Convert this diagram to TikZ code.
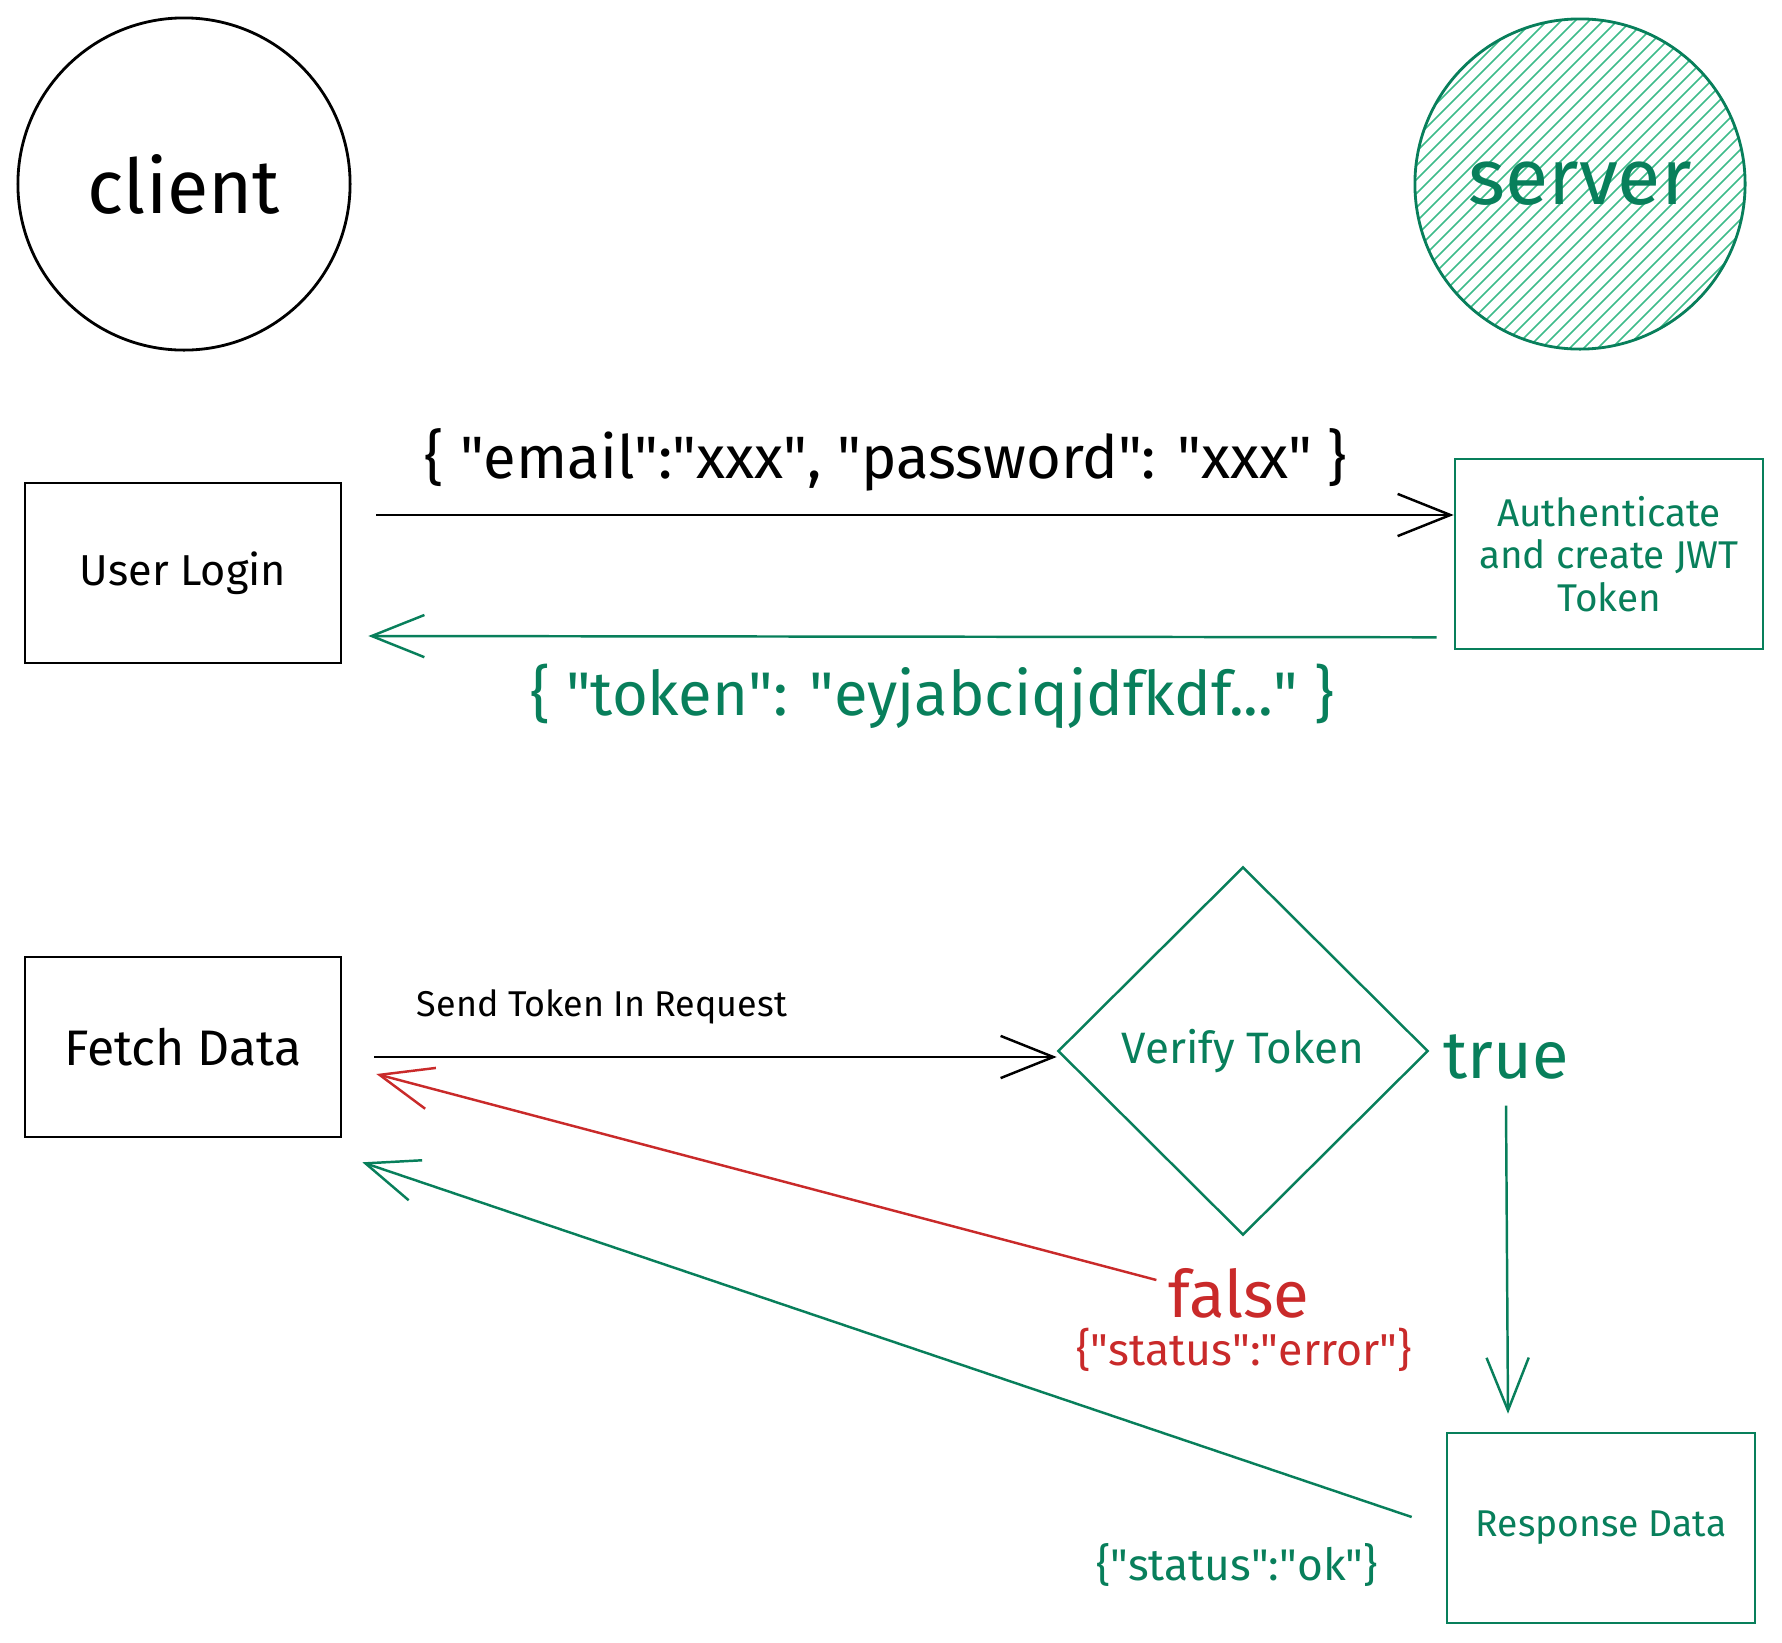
\documentclass[tikz,border=0pt]{standalone}
\usepackage{fontspec}
\setmainfont{Fira Sans}
\usepackage{xcolor}
\usetikzlibrary{positioning, arrows.meta, shapes.geometric, calc}
\definecolor{srvgreen}{HTML}{087F5B}
\definecolor{hatchgreen}{HTML}{3DBB8A}
\definecolor{errred}{HTML}{C92A2A}
\newcommand{\q}{\textquotedbl}

\begin{document}
\begin{tikzpicture}[x=0.01cm, y=-0.01cm,
    box/.style={rectangle, draw, line width=0.7pt, minimum width=3.16cm, minimum height=1.8cm},
    srvbox/.style={box, draw=srvgreen, text=srvgreen, minimum width=3.08cm, minimum height=1.9cm},
    flow/.style={-{Straight Barb[length=15pt,width=12pt]}, line width=0.7pt},
    lbl/.style={inner sep=1pt}]
    \useasboundingbox (0,0) rectangle (1782,1642);

    % actors
    \begin{scope}
        \clip (1580,184) circle (165);
        \foreach \k in {-119,-112,...,119} {
            \draw[hatchgreen, line width=0.45pt] (1580+\k-200, 184+\k+200) -- (1580+\k+200, 184+\k-200);
        }
    \end{scope}
    \node[circle, draw, line width=0.8pt, minimum size=3.32cm, font=\fontsize{21.5}{26}\selectfont] (client) at (184,184) {client};
    \node[circle, draw=srvgreen, line width=0.8pt, minimum size=3.3cm, text=srvgreen, font=\fontsize{22.5}{26}\selectfont] (server) at (1580,184) {server};

    % login
    \node[box, font=\fontsize{12.3}{14}\selectfont] (login) at (183,573) {User Login};
    \node[srvbox, align=center, font=\fontsize{11}{12}\selectfont] (auth) at (1609,554) {Authenticate\\and create JWT\\Token};
    \draw[flow] ([shift={(34,-58)}]login.east) -- ([shift={(0,-39)}]auth.west);
    \draw[flow, srvgreen] ([shift={(-17,-13)}]auth.south west) -- ([shift={(26,63)}]login.east);
    \node[lbl, font=\fontsize{17}{20}\selectfont] (creds) at (886,460) {\{ \q email\q:\q xxx\q, \q password\q: \q xxx\q\ \}};
    \node[lbl, text=srvgreen, font=\fontsize{17.5}{20}\selectfont] (tokenlbl) at (932,696) {\{ \q token\q: \q eyjabciqjdfkdf...\q\ \}};

    % fetch
    \node[box, font=\fontsize{14.2}{16}\selectfont] (fetch) at (183,1047) {Fetch Data};
    \node[diamond, draw=srvgreen, line width=0.7pt, text=srvgreen, minimum width=3.7cm, minimum height=3.68cm, inner sep=0pt, font=\fontsize{12.5}{14}\selectfont] (verify) at (1243,1051) {Verify Token};
    \node[srvbox, font=\fontsize{10.6}{13}\selectfont] (resp) at (1601,1528) {Response Data};
    \node[lbl, font=\fontsize{10.2}{12}\selectfont] (sendlbl) at (602,1007) {Send Token In Request};
    \node[lbl, text=srvgreen, font=\fontsize{19}{22}\selectfont] (truelbl) at (1506,1057) {true};
    \node[lbl, text=errred, font=\fontsize{18.6}{22}\selectfont] (falselbl) at (1239,1293) {false};
    \node[lbl, text=errred, font=\fontsize{12.7}{15}\selectfont] (errlbl) at (1244,1350) {\{\q status\q:\q error\q\}};
    \node[lbl, text=srvgreen, font=\fontsize{12.6}{15}\selectfont] (oklbl) at (1237,1565) {\{\q status\q:\q ok\q\}};
    \draw[flow] ([shift={(32,10)}]fetch.east) -- ([shift={(0,6)}]verify.west);
    \draw[flow, errred] ([shift={(-8,-13)}]falselbl.west) -- ([shift={(34,27)}]fetch.east);
    \draw[flow, srvgreen] ([shift={(0,22)}]truelbl.south) -- ([shift={(-93,-18)}]resp.north);
    \draw[flow, srvgreen] ([shift={(-34,-11)}]resp.west) -- ([shift={(20,24)}]fetch.south east);
\end{tikzpicture}
\end{document}
